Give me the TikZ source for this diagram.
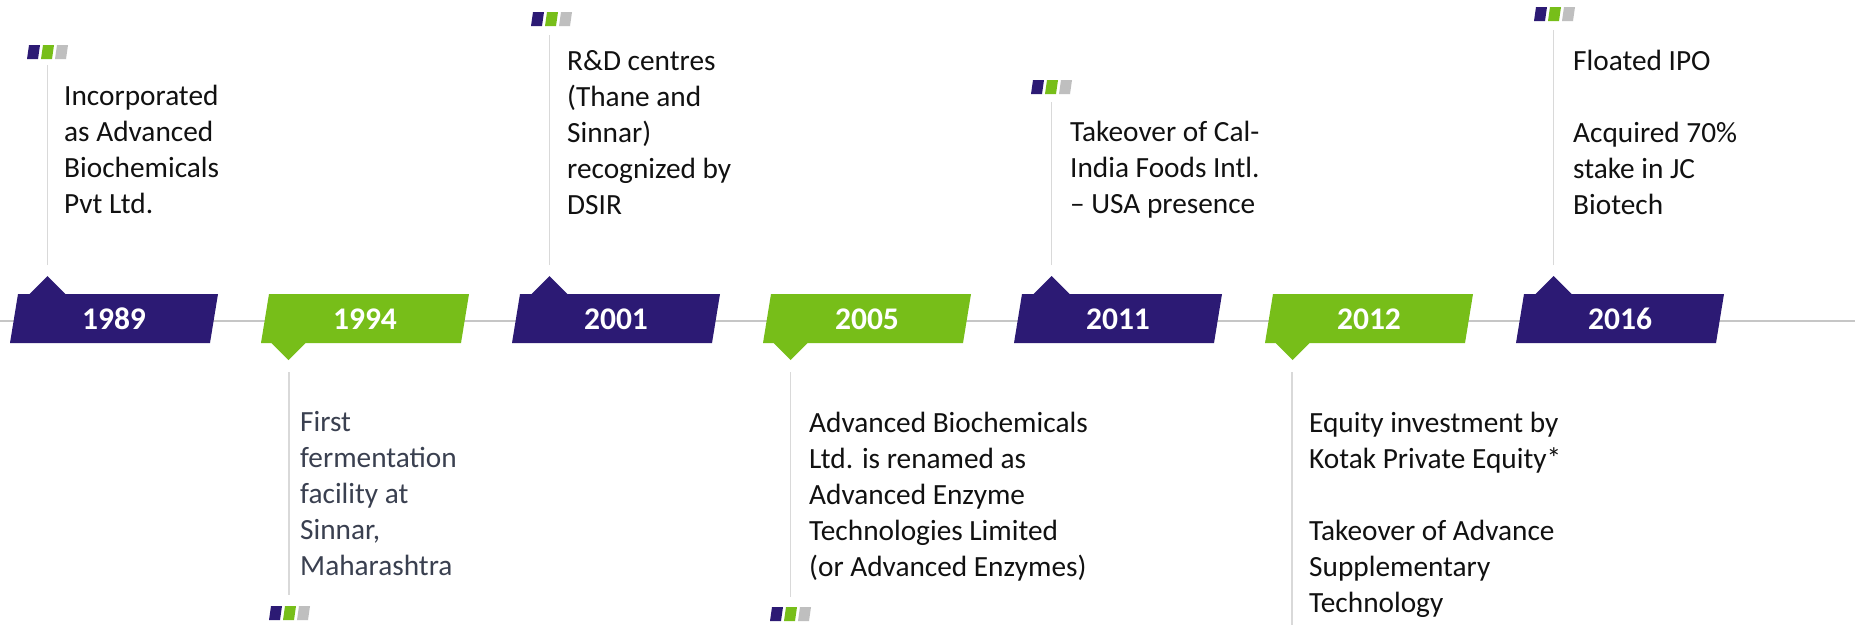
\documentclass[tikz,border=0pt]{standalone}
\usepackage{fontspec}
\setmainfont{Carlito}
\definecolor{purp}{HTML}{2C1A74}
\definecolor{grn}{HTML}{77BE19}
\definecolor{icongray}{HTML}{BFBFBF}
\definecolor{tline}{HTML}{C6C6C6}
\definecolor{vline}{HTML}{D9D9D9}
\definecolor{txt}{HTML}{111111}
\definecolor{txtgray}{HTML}{3A4050}
\tikzset{
 upbanner/.pic={\fill[purp] (-8,343) -- (0,294) -- (11.5,294) -- (29.5,276) -- (47.5,294) -- (200,294) -- (192,343) -- cycle;},
 downbanner/.pic={\fill[grn] (0,294) -- (200,294) -- (192,343) -- (36.5,343) -- (19.5,360) -- (2.5,343) -- (-8,343) -- cycle;},
 squares/.pic={
   \fill[purp] (-21,0) -- (-10,0) -- (-8,-14) -- (-19,-14) -- cycle;
   \fill[grn] (-7,0) -- (4,0) -- (6,-14) -- (-5,-14) -- cycle;
   \fill[icongray] (7,0) -- (18,0) -- (20,-14) -- (9,-14) -- cycle;},
 yearlabel/.style={text=white, font=\fontsize{31.5}{36}\selectfont\bfseries, inner sep=0},
 eventtext/.style={anchor=north west, align=left, inner sep=0, text=txt, font=\fontsize{29.3}{36}\selectfont},
 stem/.style={draw=vline, line width=1.5pt},
 timeline/.style={draw=tline, line width=2.5pt}
}
\newcommand{\fl}{\rule{0pt}{22pt}}
\begin{document}
\begin{tikzpicture}[x=1pt,y=-1pt]
\useasboundingbox (0,0) rectangle (1855,625);
\fill[white] (0,0) rectangle (1855,625);
% timeline
\coordinate (tlstart) at (0,321);
\coordinate (tlend) at (1855,321);
\draw[timeline] (tlstart) -- (tlend);
% banners
\pic at (18,0) {upbanner};
\pic at (269,0) {downbanner};
\pic at (520,0) {upbanner};
\pic at (771,0) {downbanner};
\pic at (1022,0) {upbanner};
\pic at (1273,0) {downbanner};
\pic at (1524,0) {upbanner};
% years
\node[yearlabel] (y1989) at (114,319) {1989};
\node[yearlabel] (y1994) at (365,319) {1994};
\node[yearlabel] (y2001) at (616,319) {2001};
\node[yearlabel] (y2005) at (867,319) {2005};
\node[yearlabel] (y2011) at (1118,319) {2011};
\node[yearlabel] (y2012) at (1369,319) {2012};
\node[yearlabel] (y2016) at (1620,319) {2016};
% stems
\coordinate (s1989a) at (47.5,265); \coordinate (s1989b) at (47.5,65);
\coordinate (s1994a) at (289,372); \coordinate (s1994b) at (289,595);
\coordinate (s2001a) at (549.5,265); \coordinate (s2001b) at (549.5,35);
\coordinate (s2005a) at (790.5,372); \coordinate (s2005b) at (790.5,597);
\coordinate (s2011a) at (1051.5,265); \coordinate (s2011b) at (1051.5,102);
\coordinate (s2012a) at (1292,372); \coordinate (s2012b) at (1292,625);
\coordinate (s2016a) at (1553.5,265); \coordinate (s2016b) at (1553.5,30);
\draw[stem] (s1989a) -- (s1989b);
\draw[stem] (s1994a) -- (s1994b);
\draw[stem] (s2001a) -- (s2001b);
\draw[stem] (s2005a) -- (s2005b);
\draw[stem] (s2011a) -- (s2011b);
\draw[stem] (s2012a) -- (s2012b);
\draw[stem] (s2016a) -- (s2016b);
% icons
\pic at (48,59) {squares};
\pic at (290,620) {squares};
\pic at (552,26) {squares};
\pic at (791,621) {squares};
\pic at (1052,94) {squares};
\pic at (1555,21) {squares};
% texts
\node[eventtext] (t1989) at (64,83) {\fl Incorporated\\as Advanced\\Biochemicals\\Pvt Ltd.};
\node[eventtext, text=txtgray] (t1994) at (300,409) {\fl First\\fermentation\\facility at\\Sinnar,\\Maharashtra};
\node[eventtext] (t2001) at (567,48) {\fl R\&D centres\\(Thane and\\Sinnar)\\recognized by\\DSIR};
\node[eventtext] (t2005) at (809,410) {\fl Advanced Biochemicals\\Ltd. is renamed as\\Advanced Enzyme\\Technologies Limited\\(or Advanced Enzymes)};
\node[eventtext] (t2011) at (1070,119) {\fl Takeover of Cal-\\India Foods Intl.\\– USA presence};
\node[eventtext] (t2012) at (1309,410) {\fl Equity investment by\\Kotak Private Equity*\\[36pt]Takeover of Advance\\Supplementary\\Technology};
\node[eventtext] (t2016) at (1573,48) {\fl Floated IPO\\[36pt]Acquired 70\%\\stake in JC\\Biotech};
\end{tikzpicture}
\end{document}
